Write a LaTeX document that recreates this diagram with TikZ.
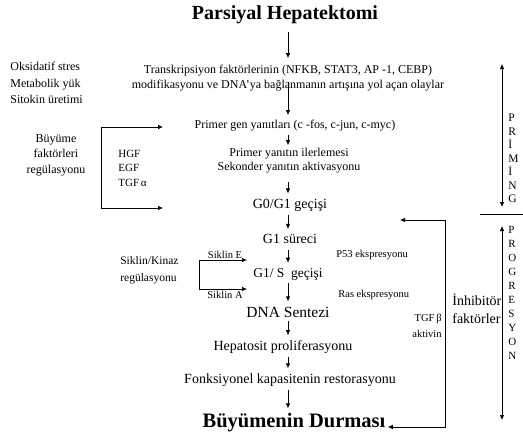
\documentclass[tikz,border=0pt]{standalone}
\usepackage{fontspec}
\setmainfont{Liberation Serif}
\usetikzlibrary{positioning,arrows.meta}

\begin{document}
\begin{tikzpicture}[x=1pt, y=-1pt, ->, draw=black, line width=0.7pt]
		\tikzset{>={Latex[length=5pt,width=4.5pt]}}
		\tikzstyle{txt}=[inner sep=2pt, align=center, font=\fontsize{12}{15}\selectfont]
		\tikzstyle{mid}=[inner sep=2pt, align=center, font=\fontsize{14}{18}\selectfont]
		\tikzstyle{small}=[inner sep=1pt, align=center, font=\fontsize{10.5}{13}\selectfont]
		\tikzstyle{headline}=[inner sep=2pt, font=\bfseries\fontsize{20}{24}\selectfont]
		\tikzstyle{letters}=[inner sep=0pt, align=left, anchor=west]
		\tikzstyle{flow}=[shorten <=1pt, shorten >=3pt]
		\useasboundingbox (0,0) rectangle (523,440);

		\coordinate (axis) at (288,0);
		\node[headline] (hep) at (285,15) {Parsiyal Hepatektomi};
		\node[txt] (trans) at (288,78.5) {Transkripsiyon faktörlerinin (NFKB, STAT3, AP\ -1, CEBP)\\modifikasyonu ve DNA’ya bağlanmanın artışına yol açan olaylar};
		\node[txt] (primgen) at (295,126) {Primer gen yanıtları (c -fos, c-jun, c-myc)};
		\node[txt, font=\fontsize{12}{14}\selectfont] (primyan) at (289,161) {Primer yanıtın ilerlemesi\\Sekonder yanıtın aktivasyonu};
		\node[mid] (g0g1) at (290,205) {G0/G1 geçişi};
		\node[mid] (g1) at (290,239) {G1 süreci};
		\node[mid, font=\fontsize{13.5}{16}\selectfont] (g1s) at (288,274) {G1/ S\ \ geçişi};
		\node[mid, font=\fontsize{15.5}{18}\selectfont] (dna) at (288,312) {DNA Sentezi};
		\node[mid] (hepat) at (283,347) {Hepatosit proliferasyonu};
		\node[mid] (fonks) at (290,380) {Fonksiyonel kapasitenin restorasyonu};
		\node[headline, font=\bfseries\fontsize{20.5}{24}\selectfont] (durma) at (294,423) {Büyümenin Durması};

		% ana akis
		\draw[flow, shorten <=6pt, shorten >=5pt] (hep.south -| axis) -- (trans.north -| axis);
		\draw[flow, shorten <=-12pt] (trans.south -| axis) -- (primgen.north -| axis);
		\draw[flow, shorten >=1pt] (primgen.south -| axis) -- (primyan.north -| axis);
		\draw[flow, shorten <=6pt] (primyan.south -| axis) -- (g0g1.north -| axis);
		\draw[flow] (g0g1.south -| axis) -- (g1.north -| axis);
		\draw[flow, shorten <=4pt] (g1.south -| axis) -- (g1s.north -| axis);
		\draw[flow] (g1s.south -| axis) -- (dna.north -| axis);
		\draw[flow] (dna.south -| axis) -- (hepat.north -| axis);
		\draw[flow] (hepat.south -| axis) -- (fonks.north -| axis);
		\draw[flow] (fonks.south -| axis) -- (durma.north -| axis);

		% sol taraf
		\node[txt, align=left, anchor=west, font=\fontsize{12}{16.5}\selectfont] (oks) at (8,83) {Oksidatif stres\\Metabolik yük\\Sitokin üretimi};
		\node[txt, font=\fontsize{12}{15.5}\selectfont] (buyume) at (56,155) {Büyüme\\faktörleri\\regülasyonu};
		\node[small, align=left, anchor=west, font=\fontsize{11}{14.5}\selectfont] (hgf) at (117,168) {HGF\\EGF\\TGF\,α};
		\coordinate (gfin) at (163,127);
		\coordinate (gfout) at (163,208);
		\draw[<->] (gfin) -- ++(-62,0) |- (gfout);

		\node[txt, align=left, anchor=west, font=\fontsize{11.5}{17}\selectfont] (siklin) at (118,270.5) {Siklin/Kinaz\\regülasyonu};
		\node[small] (sikE) at (225,255) {Siklin E};
		\node[small] (sikA) at (225,295) {Siklin A};
		\coordinate (sein) at (247,260);
		\coordinate (sain) at (247,289);
		\draw[<->] (sein) -- ++(-48,0) |- (sain);

		% sag taraf
		\node[small, anchor=west] (p53) at (335,255) {P53 ekspresyonu};
		\node[small, anchor=west] (ras) at (337,295) {Ras ekspresyonu};
		\node[small, align=right, anchor=east, font=\fontsize{10.5}{16}\selectfont] (tgf) at (443,326) {TGF\,β\\aktivin};
		\coordinate (tgfin) at (400,220);
		\coordinate (tgfx) at (445,427);
		\draw[<->] (tgfin) -| (tgfx) -- (durma.east |- tgfx);

		\node[mid, align=left, anchor=west, font=\fontsize{14}{18}\selectfont] (inhib) at (450,309) {İnhibitör\\faktörler};
		\node[letters, font=\fontsize{11.5}{13.5}\selectfont] (priming) at (508,158.5) {P\\R\\İ\\M\\İ\\N\\G};
		\node[letters, font=\fontsize{11}{14}\selectfont] (progres) at (508,293) {P\\R\\O\\G\\R\\E\\S\\Y\\O\\N};
		\coordinate (pt) at (502,64);
		\coordinate (pb) at (502,207);
		\coordinate (gt) at (502,226);
		\coordinate (gb) at (502,420);
		\draw[<->] (pt) -- (pb);
		\draw[<->] (gt) -- (gb);
		\coordinate (sep1) at (480,214);
		\coordinate (sep2) at (523,214);
		\draw[-] (sep1) -- (sep2);
	\end{tikzpicture}
\end{document}
